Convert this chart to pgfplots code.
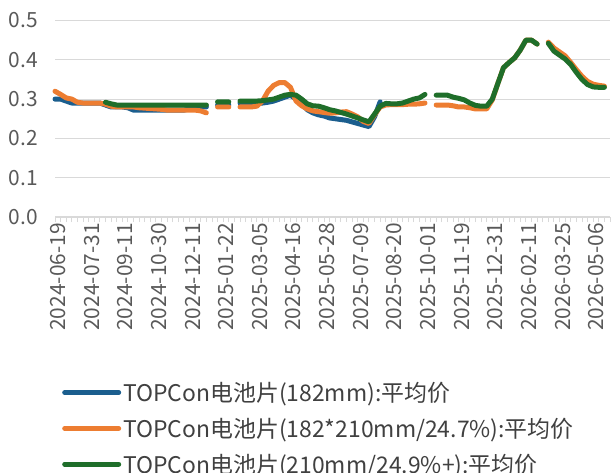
\documentclass[border=0pt]{standalone}
\usepackage{pgfplots}
\usepackage{pgfplotstable}
\pgfplotsset{compat=1.18}
\usepackage{fontspec}
\setmainfont{Noto Sans CJK SC}
\definecolor{cblue}{HTML}{1B5E8E}
\definecolor{corange}{HTML}{ED7D31}
\definecolor{cgreen}{HTML}{1F6E2A}
\definecolor{ctick}{HTML}{595959}
\definecolor{clegend}{HTML}{404040}
\definecolor{cgrid}{HTML}{D9D9D9}
\pgfplotstableread{
idx blue orange green
0 0.300 0.320 nan
1 0.300 0.312 nan
2 0.295 0.303 nan
3 0.290 0.300 nan
4 0.290 0.292 nan
5 0.290 0.290 nan
6 0.290 0.290 nan
7 0.290 0.290 nan
8 0.290 0.290 nan
9 0.285 0.287 0.292
10 0.280 0.282 0.288
11 0.280 0.280 0.285
12 0.280 0.280 0.285
13 0.278 0.280 0.285
14 0.272 0.280 0.285
15 0.272 0.278 0.285
16 0.272 0.277 0.285
17 0.272 0.276 0.285
18 0.272 0.275 0.285
19 0.272 0.274 0.285
20 0.272 0.272 0.285
21 0.272 0.272 0.285
22 0.272 0.272 0.285
23 0.272 0.272 0.285
24 0.275 0.272 0.285
25 0.280 0.272 0.285
26 0.280 0.270 0.285
27 0.280 0.265 0.285
28 nan nan nan
29 0.285 0.280 0.293
30 0.285 0.280 0.293
31 0.285 0.280 0.293
32 nan nan nan
33 0.290 0.280 0.295
34 0.290 0.280 0.295
35 0.290 0.280 0.295
36 0.290 0.282 0.295
37 0.290 0.295 0.296
38 0.292 0.320 0.298
39 0.295 0.335 0.300
40 0.300 0.342 0.305
41 0.305 0.342 0.310
42 0.310 0.330 0.312
43 0.300 0.295 0.310
44 0.288 0.283 0.300
45 0.273 0.275 0.288
46 0.265 0.270 0.283
47 0.260 0.268 0.282
48 0.257 0.266 0.278
49 0.252 0.264 0.273
50 0.250 0.265 0.270
51 0.248 0.267 0.266
52 0.246 0.268 0.262
53 0.242 0.262 0.257
54 0.238 0.255 0.252
55 0.234 0.243 0.247
56 0.230 0.238 0.242
57 0.255 0.260 0.262
58 0.293 0.280 0.282
59 nan 0.285 0.289
60 nan 0.286 0.288
61 nan 0.286 0.288
62 nan 0.286 0.290
63 nan 0.287 0.295
64 nan 0.287 0.300
65 nan 0.288 0.303
66 nan 0.290 0.312
67 nan nan nan
68 nan 0.285 0.310
69 nan 0.285 0.310
70 nan 0.285 0.310
71 nan 0.283 0.305
72 nan 0.280 0.302
73 nan 0.280 0.298
74 nan 0.278 0.290
75 nan 0.275 0.284
76 nan 0.275 0.282
77 nan 0.275 0.282
78 nan 0.298 0.300
79 nan 0.340 0.340
80 nan 0.380 0.380
81 nan 0.393 0.393
82 nan 0.405 0.405
83 nan 0.425 0.425
84 nan 0.450 0.450
85 nan 0.450 0.450
86 nan 0.440 0.440
87 nan nan nan
88 nan 0.445 0.442
89 nan 0.430 0.422
90 nan 0.420 0.412
91 nan 0.410 0.402
92 nan 0.393 0.388
93 nan 0.375 0.368
94 nan 0.358 0.350
95 nan 0.345 0.337
96 nan 0.338 0.331
97 nan 0.335 0.330
98 nan 0.333 0.330
}\datatable
\begin{document}
\begin{tikzpicture}
\begin{axis}[
  scale only axis, width=555bp, height=196.5bp,
  xmin=0, xmax=99, ymin=0, ymax=0.5,
  clip=false,
  axis x line*=bottom, axis y line*=left,
  x axis line style={cgrid, line width=1.2bp, -},
  y axis line style={draw=none},
  ytick={0,0.1,0.2,0.3,0.4,0.5},
  ytick style={draw=none},
  ymajorgrids, major grid style={cgrid, line width=1.2bp},
  xtick={0,6,...,96},
  minor xtick={0,1,...,99},
  xticklabels={2024-06-19,2024-07-31,2024-09-11,2024-10-30,2024-12-11,2025-01-22,2025-03-05,2025-04-16,2025-05-28,2025-07-09,2025-08-20,2025-10-01,2025-11-19,2025-12-31,2026-02-11,2026-03-25,2026-05-06},
  tick align=outside,
  major tick length=5bp, minor tick length=5bp,
  xtick style={cgrid, line width=0.9bp},
  minor x tick style={cgrid, line width=0.9bp},
  xticklabel style={rotate=90, anchor=east, inner sep=1bp, xshift=0bp, yshift=-3bp},
  yticklabel style={/pgf/number format/.cd, fixed, fixed zerofill, precision=1, /tikz/.cd, inner sep=1bp, xshift=-11bp},
  /pgf/number format/assume math mode=true,
  tick label style={font=\fontsize{21}{24}\selectfont, text=ctick},
  unbounded coords=jump,
  every axis plot/.append style={line width=5bp, line cap=round, line join=round},
  legend cell align=left,
  legend style={draw=none, fill=none, at={(axis description cs:0,0)}, anchor=north west, xshift=7bp, yshift=-163bp,
    font=\fontsize{23}{26}\selectfont, text=clegend, row sep=11bp, inner sep=0pt},
  legend image code/.code={\draw[line width=5bp, line cap=round] (0bp,0bp) -- (54bp,0bp);},
]
\addplot[cblue] table[x=idx, y=blue] {\datatable};
\addlegendentry{TOPCon电池片(182mm):平均价}
\addplot[corange] table[x=idx, y=orange] {\datatable};
\addlegendentry{TOPCon电池片(182*210mm/24.7\%):平均价}
\addplot[cgreen] table[x=idx, y=green] {\datatable};
\addlegendentry{TOPCon电池片(210mm/24.9\%+):平均价}
\end{axis}
\pgfresetboundingbox
\useasboundingbox ([xshift=-55bp,yshift=-255bp]current axis.south west) rectangle ([xshift=3bp,yshift=20.5bp]current axis.north east);
\end{tikzpicture}
\end{document}
